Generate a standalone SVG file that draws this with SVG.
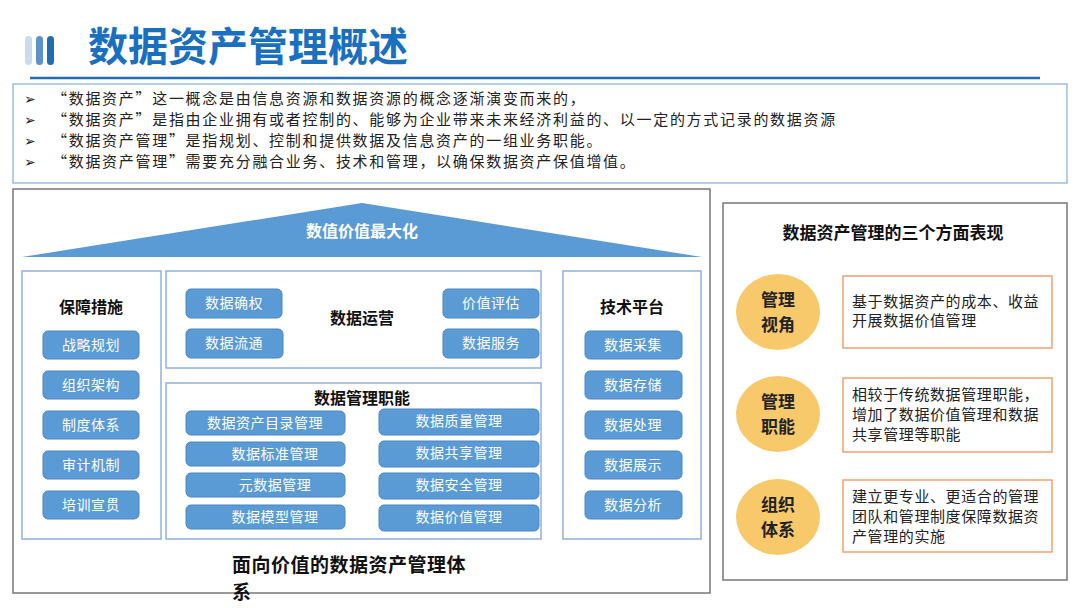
<svg xmlns="http://www.w3.org/2000/svg" width="1080" height="608" viewBox="0 0 1080 608">
<style>
text{font-family:"Noto Sans CJK SC","Liberation Sans",sans-serif}
.btn{fill:#5b9bd5;stroke:#4a86c0;stroke-width:1}
.bt{fill:#fff;font-size:14px;text-anchor:middle;letter-spacing:0.5px}
.pan{fill:#fff;stroke:#8fb0e0;stroke-width:1.5}
.ht{font-size:16px;font-weight:bold;text-anchor:middle;fill:#111}
.bl{font-size:15px;fill:#222;letter-spacing:1.7px}
.ar{font-size:14px;fill:#222;font-family:"DejaVu Sans",sans-serif}
.ob{fill:#fff;stroke:#f0a070;stroke-width:1.5}
.ot{font-size:15px;fill:#222;letter-spacing:0.6px}
.ct{font-size:17px;font-weight:bold;text-anchor:middle;fill:#222}
</style>
<rect width="1080" height="608" fill="#fff"/>
<g id="header">
<rect x="25" y="36" width="7" height="29" rx="3.5" fill="#c9dcef"/>
<rect x="36" y="36" width="7" height="29" rx="3.5" fill="#5b92c8"/>
<rect x="47" y="36" width="7" height="29" rx="3.5" fill="#1f6db5"/>
<text x="88" y="61" font-size="40" font-weight="bold" fill="#1a70c0">数据资产管理概述</text>
<line x1="30" y1="78" x2="1040" y2="78" stroke="#1f6db5" stroke-width="2.5"/>
</g>
<g id="intro">
<rect x="13" y="84" width="1054" height="99" fill="#fff" stroke="#9dbde0" stroke-width="1.5"/>
<text class="ar" x="24" y="104">➢</text><text class="ar" x="24" y="125">➢</text><text class="ar" x="24" y="146">➢</text><text class="ar" x="24" y="167">➢</text>
<text class="bl" x="52" y="104">“数据资产”这一概念是由信息资源和数据资源的概念逐渐演变而来的，</text>
<text class="bl" x="52" y="125">“数据资产”是指由企业拥有或者控制的、能够为企业带来未来经济利益的、以一定的方式记录的数据资源</text>
<text class="bl" x="52" y="146">“数据资产管理”是指规划、控制和提供数据及信息资产的一组业务职能。</text>
<text class="bl" x="52" y="167">“数据资产管理”需要充分融合业务、技术和管理，以确保数据资产保值增值。</text>
</g>
<g id="system">
<rect x="13" y="189" width="697" height="404" fill="#fff" stroke="#777" stroke-width="1.5"/>
<polygon points="22,257 362,203 702,257" fill="#5b9bd5"/>
<text x="362" y="237" font-size="16" font-weight="bold" fill="#fff" text-anchor="middle">数值价值最大化</text>
<text x="232" y="572" font-size="19" font-weight="bold" fill="#111" letter-spacing="0.5">面向价值的数据资产管理体</text>
<text x="232" y="599" font-size="19" font-weight="bold" fill="#111">系</text>
</g>
<g id="baozhang">
<rect class="pan" x="22" y="271" width="139" height="268"/>
<text class="ht" x="91" y="313">保障措施</text>
<rect class="btn" x="43" y="331" width="96" height="28" rx="5"/><text class="bt" x="91" y="350">战略规划</text>
<rect class="btn" x="43" y="371" width="96" height="28" rx="5"/><text class="bt" x="91" y="390">组织架构</text>
<rect class="btn" x="43" y="411" width="96" height="28" rx="5"/><text class="bt" x="91" y="430">制度体系</text>
<rect class="btn" x="43" y="451" width="96" height="28" rx="5"/><text class="bt" x="91" y="470">审计机制</text>
<rect class="btn" x="43" y="491" width="96" height="28" rx="5"/><text class="bt" x="91" y="510">培训宣贯</text>
</g>
<g id="yunying">
<rect class="pan" x="166" y="271" width="375" height="97"/>
<text class="ht" x="362" y="324">数据运营</text>
<rect class="btn" x="186" y="289" width="96" height="29" rx="5"/><text class="bt" x="234" y="308">数据确权</text>
<rect class="btn" x="186" y="329" width="97" height="29" rx="5"/><text class="bt" x="234" y="348">数据流通</text>
<rect class="btn" x="443" y="289" width="96" height="29" rx="5"/><text class="bt" x="491" y="308">价值评估</text>
<rect class="btn" x="443" y="329" width="96" height="29" rx="5"/><text class="bt" x="491" y="348">数据服务</text>
</g>
<g id="guanli">
<rect class="pan" x="166" y="383" width="375" height="156"/>
<text class="ht" x="362" y="404">数据管理职能</text>
<rect class="btn" x="186" y="411" width="159" height="24" rx="5"/><text class="bt" x="265" y="428">数据资产目录管理</text>
<rect class="btn" x="186" y="442" width="159" height="24" rx="5"/><text class="bt" x="275" y="459">数据标准管理</text>
<rect class="btn" x="186" y="473" width="159" height="24" rx="5"/><text class="bt" x="275" y="490">元数据管理</text>
<rect class="btn" x="186" y="505" width="159" height="24" rx="5"/><text class="bt" x="275" y="522">数据模型管理</text>
<rect class="btn" x="379" y="409" width="160" height="26" rx="5"/><text class="bt" x="459" y="426">数据质量管理</text>
<rect class="btn" x="379" y="441" width="160" height="26" rx="5"/><text class="bt" x="459" y="458">数据共享管理</text>
<rect class="btn" x="379" y="473" width="160" height="26" rx="5"/><text class="bt" x="459" y="490">数据安全管理</text>
<rect class="btn" x="379" y="505" width="160" height="26" rx="5"/><text class="bt" x="459" y="522">数据价值管理</text>
</g>
<g id="jishu">
<rect class="pan" x="563" y="271" width="138" height="268"/>
<text class="ht" x="632" y="313">技术平台</text>
<rect class="btn" x="585" y="331" width="97" height="28" rx="5"/><text class="bt" x="633" y="350">数据采集</text>
<rect class="btn" x="585" y="371" width="97" height="28" rx="5"/><text class="bt" x="633" y="390">数据存储</text>
<rect class="btn" x="585" y="411" width="97" height="28" rx="5"/><text class="bt" x="633" y="430">数据处理</text>
<rect class="btn" x="585" y="451" width="97" height="28" rx="5"/><text class="bt" x="633" y="470">数据展示</text>
<rect class="btn" x="585" y="491" width="97" height="28" rx="5"/><text class="bt" x="633" y="510">数据分析</text>
</g>
<g id="aspects">
<rect x="723" y="203" width="344" height="377" fill="#fff" stroke="#777" stroke-width="1.5"/>
<text x="893" y="239" font-size="17" font-weight="bold" fill="#111" text-anchor="middle">数据资产管理的三个方面表现</text>
<ellipse cx="778" cy="312" rx="42" ry="38" fill="#f8c96a"/>
<text class="ct" x="778" y="306">管理</text><text class="ct" x="778" y="331">视角</text>
<ellipse cx="778" cy="414" rx="42" ry="38" fill="#f8c96a"/>
<text class="ct" x="778" y="408">管理</text><text class="ct" x="778" y="433">职能</text>
<ellipse cx="778" cy="517" rx="42" ry="38" fill="#f8c96a"/>
<text class="ct" x="778" y="511">组织</text><text class="ct" x="778" y="536">体系</text>
<rect class="ob" x="843" y="276" width="209" height="72"/>
<text class="ot" x="852" y="307">基于数据资产的成本、收益</text>
<text class="ot" x="852" y="326">开展数据价值管理</text>
<rect class="ob" x="843" y="378" width="209" height="74"/>
<text class="ot" x="852" y="400">相较于传统数据管理职能，</text>
<text class="ot" x="852" y="420">增加了数据价值管理和数据</text>
<text class="ot" x="852" y="440">共享管理等职能</text>
<rect class="ob" x="843" y="480" width="209" height="72"/>
<text class="ot" x="852" y="502">建立更专业、更适合的管理</text>
<text class="ot" x="852" y="522">团队和管理制度保障数据资</text>
<text class="ot" x="852" y="542">产管理的实施</text>
</g>
<g id="connectors"/>
</svg>
